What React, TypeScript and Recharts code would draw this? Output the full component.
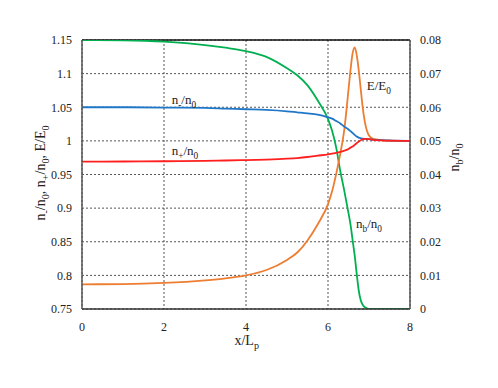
import React from "react";
import {
  LineChart,
  Line,
  XAxis,
  YAxis,
  CartesianGrid,
  ReferenceLine,
} from "recharts";

// ── Theme ─────────────────────────────────────────────────────────────────────
const FONT   = "Liberation Serif, Times New Roman, DejaVu Serif, serif";
const INK    = "#222";
const BLUE   = "#1f77c8";
const RED    = "#ff1f1f";
const GREEN  = "#00b050";
const ORANGE = "#ed7d31";
const GRID   = "#555";

// ── Data ──────────────────────────────────────────────────────────────────────
const X = [
  0, 1, 2, 3, 3.5, 4, 4.5, 5, 5.25, 5.5, 5.75, 6, 6.1, 6.2, 6.3, 6.4, 6.5, 6.55,
  6.6, 6.65, 6.7, 6.75, 6.8, 6.85, 6.9, 6.95, 7, 7.1, 7.3, 7.5, 8,
];

// n-/n0 (left axis)
const N_MINUS = [
  1.05, 1.05, 1.0495, 1.049, 1.048, 1.047, 1.046, 1.044, 1.0425, 1.041, 1.039,
  1.035, 1.033, 1.0295, 1.026, 1.021, 1.017, 1.0145, 1.012, 1.009, 1.0065,
  1.0048, 1.004, 1.0033, 1.003, 1.0027, 1.0025, 1.002, 1.0012, 1.0006, 1.0,
];

// n+/n0 (left axis)
const N_PLUS = [
  0.969, 0.9693, 0.9697, 0.9703, 0.9708, 0.9714, 0.9722, 0.9735, 0.9745, 0.976,
  0.978, 0.98, 0.981, 0.982, 0.9835, 0.9855, 0.988, 0.99, 0.9915, 0.994, 0.9965,
  0.999, 1.001, 1.0025, 1.003, 1.003, 1.0025, 1.0015, 1.0007, 1.0003, 1.0,
];

// E/E0 (left axis)
const E_FIELD = [
  0.7867, 0.787, 0.7887, 0.7925, 0.7955, 0.8, 0.808, 0.823, 0.834, 0.852, 0.876,
  0.906, 0.925, 0.951, 0.981, 1.018, 1.076, 1.106, 1.13, 1.139, 1.128, 1.105,
  1.076, 1.048, 1.028, 1.015, 1.008, 1.003, 1.001, 1.0, 1.0,
];

// nb/n0 (right axis)
const N_BEAM = [
  0.08, 0.0799, 0.0795, 0.0785, 0.0777, 0.0767, 0.075, 0.0716, 0.0695, 0.0665,
  0.062, 0.0565, 0.053, 0.048, 0.041, 0.035, 0.0285, 0.025, 0.0205, 0.016,
  0.0105, 0.0055, 0.0025, 0.0012, 0.0005, 0.0002, 0, 0, 0, 0, 0,
];

const X_TICKS     = [0, 2, 4, 6, 8];
const LEFT_TICKS  = [0.75, 0.8, 0.85, 0.9, 0.95, 1, 1.05, 1.1, 1.15];
const RIGHT_TICKS = [0, 0.01, 0.02, 0.03, 0.04, 0.05, 0.06, 0.07, 0.08];

const rows = X.map((x, i) => ({
  x,
  nMinus: N_MINUS[i],
  nPlus:  N_PLUS[i],
  e:      E_FIELD[i],
  nb:     N_BEAM[i],
}));

const W = 490;
const H = 380;

// ── Text with subscripts ──────────────────────────────────────────────────────
type Part = [string, boolean];

function SubText({ parts, size, ...rest }: { parts: Part[]; size: number } & React.SVGProps<SVGTextElement>) {
  let down = false;
  const shift = Math.round(size * 0.28);
  return (
    <text style={{ fontFamily: FONT }} fontSize={size} fill={INK} {...rest}>
      {parts.map(([t, sub], i) => {
        let dy = 0;
        if (sub && !down) { dy = shift; down = true; }
        else if (!sub && down) { dy = -shift; down = false; }
        return (
          <tspan key={i} dy={dy} fontSize={sub ? size * 0.72 : size}>
            {t}
          </tspan>
        );
      })}
    </text>
  );
}

const tickStyle = { fill: INK, fontSize: 12, style: { fontFamily: FONT } };

export default function App() {
  return (
    <div style={{ position: "relative", width: W, height: H, fontFamily: FONT }}>
      <LineChart
        width={W}
        height={H}
        data={rows}
        margin={{ top: 32, right: 8, bottom: 49, left: 14 }}
        style={{ fontFamily: FONT }}
      >
        <CartesianGrid
          yAxisId="left"
          stroke={GRID}
          strokeDasharray="2 2"
          horizontalValues={LEFT_TICKS}
          verticalValues={X_TICKS}
        />
        <XAxis
          dataKey="x"
          type="number"
          domain={[0, 8]}
          ticks={X_TICKS}
          interval={0}
          height={30}
          tick={tickStyle}
          tickLine={false}
          tickSize={0}
          tickMargin={13}
          axisLine={{ stroke: "#333", strokeWidth: 1.5 }}
        />
        <YAxis
          yAxisId="left"
          orientation="left"
          domain={[0.75, 1.15]}
          ticks={LEFT_TICKS}
          interval={0}
          width={60}
          allowDataOverflow
          tick={tickStyle}
          tickFormatter={(v: number) => String(v)}
          tickLine={false}
          tickSize={0}
          tickMargin={10}
          axisLine={{ stroke: "#555", strokeWidth: 1.5 }}
        />
        <YAxis
          yAxisId="right"
          orientation="right"
          domain={[0, 0.08]}
          ticks={RIGHT_TICKS}
          interval={0}
          width={80}
          allowDataOverflow
          tick={tickStyle}
          tickFormatter={(v: number) => String(v)}
          tickLine={false}
          tickSize={0}
          tickMargin={10}
          axisLine={{ stroke: "#555", strokeWidth: 1.5 }}
        />
        <ReferenceLine yAxisId="left" y={1.15} stroke="#111" strokeWidth={1.5} />
        <Line
          yAxisId="right"
          type="monotone"
          dataKey="nb"
          stroke={GREEN}
          strokeWidth={1.8}
          dot={false}
          isAnimationActive={false}
        />
        <Line
          yAxisId="left"
          type="monotone"
          dataKey="e"
          stroke={ORANGE}
          strokeWidth={1.8}
          dot={false}
          isAnimationActive={false}
        />
        <Line
          yAxisId="left"
          type="monotone"
          dataKey="nMinus"
          stroke={BLUE}
          strokeWidth={1.8}
          dot={false}
          isAnimationActive={false}
        />
        <Line
          yAxisId="left"
          type="monotone"
          dataKey="nPlus"
          stroke={RED}
          strokeWidth={1.8}
          dot={false}
          isAnimationActive={false}
        />
      </LineChart>

      {/* axis titles and in-plot labels */}
      <svg
        width={W}
        height={H}
        style={{ position: "absolute", left: 0, top: 0, pointerEvents: "none" }}
      >
        <SubText parts={[["x/L", false], ["p", true]]} size={14} x={238.7} y={337} textAnchor="middle" />
        <SubText
          parts={[
            ["n", false], ["-", true], ["/n", false], ["0", true],
            [", n", false], ["+", true], ["/n", false], ["0", true],
            [", E/E", false], ["0", true],
          ]}
          size={14}
          x={37}
          y={165}
          textAnchor="middle"
          transform="rotate(-90 37 165)"
        />
        <SubText
          parts={[["n", false], ["b", true], ["/n", false], ["0", true]]}
          size={14}
          x={451}
          y={149.5}
          textAnchor="middle"
          transform="rotate(-90 451 149.5)"
        />
        <SubText parts={[["n", false], ["-", true], ["/n", false], ["0", true]]} size={13} x={163.7} y={96} />
        <SubText parts={[["n", false], ["+", true], ["/n", false], ["0", true]]} size={13} x={163.7} y={147.3} />
        <SubText parts={[["E/E", false], ["0", true]]} size={13} x={358.7} y={82} />
        <SubText parts={[["n", false], ["b", true], ["/n", false], ["0", true]]} size={13} x={348} y={220.3} />
      </svg>
    </div>
  );
}
